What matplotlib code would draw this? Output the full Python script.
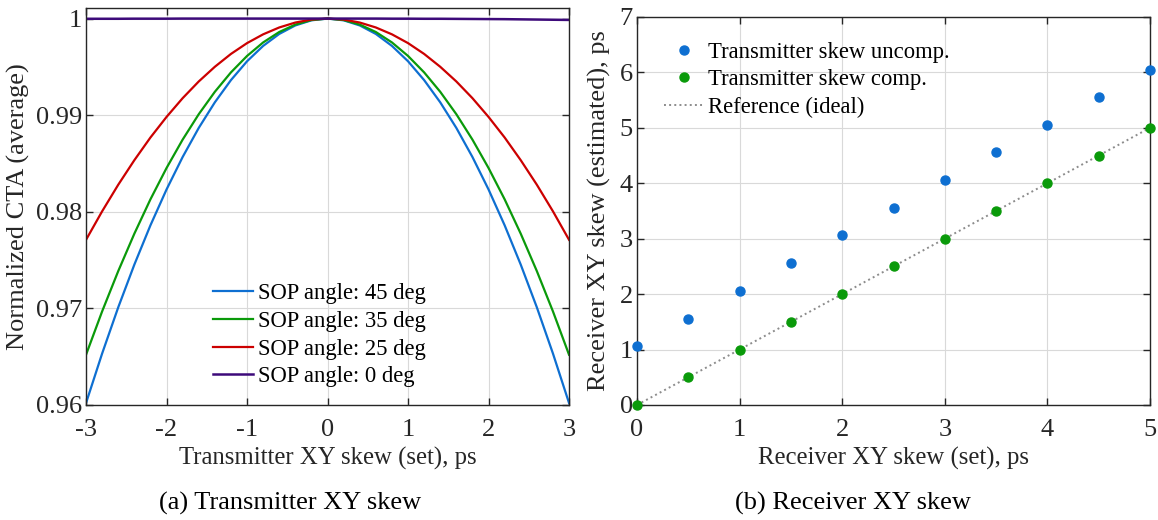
import matplotlib
matplotlib.use('Agg')
import matplotlib.pyplot as plt
from matplotlib.lines import Line2D

plt.rcParams['font.family'] = ['Liberation Serif', 'DejaVu Serif']
plt.rcParams['axes.unicode_minus'] = False

# (a) normalized CTA vs transmitter skew
tx_skew = [-3.0, -2.8, -2.6, -2.4, -2.2, -2.0, -1.8, -1.6, -1.4, -1.2, -1.0, -0.8, -0.6, -0.4, -0.2, 0.0,
           0.2, 0.4, 0.6, 0.8, 1.0, 1.2, 1.4, 1.6, 1.8, 2.0, 2.2, 2.4, 2.6, 2.8, 3.0]
cta_45 = [0.9602, 0.96533, 0.97011, 0.97453, 0.97860, 0.98231, 0.98567, 0.98868, 0.99133, 0.99363,
          0.99558, 0.99717, 0.99841, 0.99929, 0.99982, 1.0,
          0.99982, 0.99929, 0.99841, 0.99717, 0.99558, 0.99363, 0.99133, 0.98868, 0.98567, 0.98231,
          0.97860, 0.97453, 0.97011, 0.96533, 0.9602]
cta_35 = [0.9652, 0.96969, 0.97386, 0.97773, 0.98129, 0.98453, 0.98747, 0.99010, 0.99242, 0.99443,
          0.99613, 0.99753, 0.99861, 0.99938, 0.99985, 1.0,
          0.99985, 0.99938, 0.99861, 0.99753, 0.99613, 0.99443, 0.99242, 0.99010, 0.98747, 0.98453,
          0.98129, 0.97773, 0.97386, 0.96969, 0.9652]
cta_25 = [0.9771, 0.98005, 0.98280, 0.98534, 0.98769, 0.98982, 0.99176, 0.99349, 0.99501, 0.99634,
          0.99746, 0.99837, 0.99908, 0.99959, 0.99990, 1.0,
          0.99990, 0.99959, 0.99908, 0.99837, 0.99746, 0.99634, 0.99501, 0.99349, 0.99176, 0.98982,
          0.98769, 0.98534, 0.98280, 0.98005, 0.9771]
cta_0 = [0.99998, 0.99998, 0.99998, 0.99999, 0.99999, 0.99999, 1.0, 1.0, 1.0, 1.0,
         1.0, 1.0, 1.0, 1.0, 1.0, 1.0,
         1.0, 1.0, 1.0, 0.99999, 0.99999, 0.99998, 0.99998, 0.99997, 0.99996, 0.99995,
         0.99994, 0.99992, 0.9999, 0.99988, 0.99986]

# (b) receiver skew estimation
rx_set = [0, 0.5, 1, 1.5, 2, 2.5, 3, 3.5, 4, 4.5, 5]
rx_uncomp = [1.06, 1.56, 2.06, 2.56, 3.06, 3.56, 4.06, 4.56, 5.05, 5.56, 6.05]
rx_comp = [0.0, 0.5, 1.0, 1.5, 2.0, 2.5, 3.0, 3.5, 4.0, 4.5, 5.0]
ref_x = [0, 5]
ref_y = [0, 5]

axcol = '#262626'
fs = 19

fig = plt.figure(figsize=(11.58, 5.2), dpi=100)
ax1 = fig.add_axes([0.0743, 0.2212, 0.4171, 0.7635])
ax2 = fig.add_axes([0.5501, 0.2212, 0.4430, 0.7462])

for ax in (ax1, ax2):
    ax.grid(True, color='#d9d9d9', linewidth=0.8)
    ax.set_axisbelow(True)
    ax.tick_params(direction='in', top=True, right=True, labelsize=fs, colors=axcol,
                   length=5, width=1)
    ax.tick_params(axis='x', pad=10)
    ax.tick_params(axis='y', pad=3)
    for s in ax.spines.values():
        s.set_color(axcol)
        s.set_linewidth(1.0)

ax1.plot(tx_skew, cta_45, color='#0E6FD1', lw=1.6, label='SOP angle: 45 deg')
ax1.plot(tx_skew, cta_35, color='#0A9A0A', lw=1.6, label='SOP angle: 35 deg')
ax1.plot(tx_skew, cta_25, color='#CC0000', lw=1.6, label='SOP angle: 25 deg')
ax1.plot(tx_skew, cta_0, color='#3D0A7A', lw=1.8, label='SOP angle: 0 deg')
ax1.set_xlim(-3, 3)
ax1.set_ylim(0.96, 1.0011)
ax1.set_xticks([-3, -2, -1, 0, 1, 2, 3])
ax1.set_yticks([0.96, 0.97, 0.98, 0.99, 1.0])
ax1.set_yticklabels(['0.96', '0.97', '0.98', '0.99', '1'])
ax1.set_xlabel('Transmitter XY skew (set), ps', fontsize=17.8, color=axcol, labelpad=4)
ax1.set_ylabel('Normalized CTA (average)', fontsize=fs, color=axcol, labelpad=4)
ax1.legend(loc='upper left', bbox_to_anchor=(0.245, 0.33), frameon=False, fontsize=16.3,
           handlelength=1.75, handletextpad=0.2, labelspacing=0.3, borderaxespad=0)

ax2.plot(ref_x, ref_y, linestyle=':', color='#8c8c8c', lw=1.4, zorder=2)
ax2.plot(rx_set, rx_uncomp, 'o', color='#0E6FD1', ms=6.5, zorder=3, clip_on=False)
ax2.plot(rx_set, rx_comp, 'o', color='#0A9A0A', ms=6.5, zorder=3, clip_on=False)
ax2.set_xlim(0, 5)
ax2.set_ylim(0, 7)
ax2.set_xticks([0, 1, 2, 3, 4, 5])
ax2.set_yticks([0, 1, 2, 3, 4, 5, 6, 7])
ax2.set_xlabel('Receiver XY skew (set), ps', fontsize=17.8, color=axcol, labelpad=4)
ax2.set_ylabel('Receiver XY skew (estimated), ps', fontsize=fs, color=axcol, labelpad=6)
handles = [Line2D([], [], marker='o', ls='none', color='#0E6FD1', ms=6.5),
           Line2D([], [], marker='o', ls='none', color='#0A9A0A', ms=6.5),
           Line2D([], [], ls=':', color='#8c8c8c', lw=1.4)]
ax2.legend(handles, ['Transmitter skew uncomp.', 'Transmitter skew comp.', 'Reference (ideal)'],
           loc='upper left', bbox_to_anchor=(0.035, 0.96), frameon=False, fontsize=16.3,
           handlelength=1.75, handletextpad=0.2, labelspacing=0.3, borderaxespad=0)

fig.text(0.2505, 0.02, '(a) Transmitter XY skew', ha='center', fontsize=fs, color='black')
fig.text(0.7366, 0.02, '(b) Receiver XY skew', ha='center', fontsize=fs, color='black')

fig.savefig('out.png', dpi=100)
